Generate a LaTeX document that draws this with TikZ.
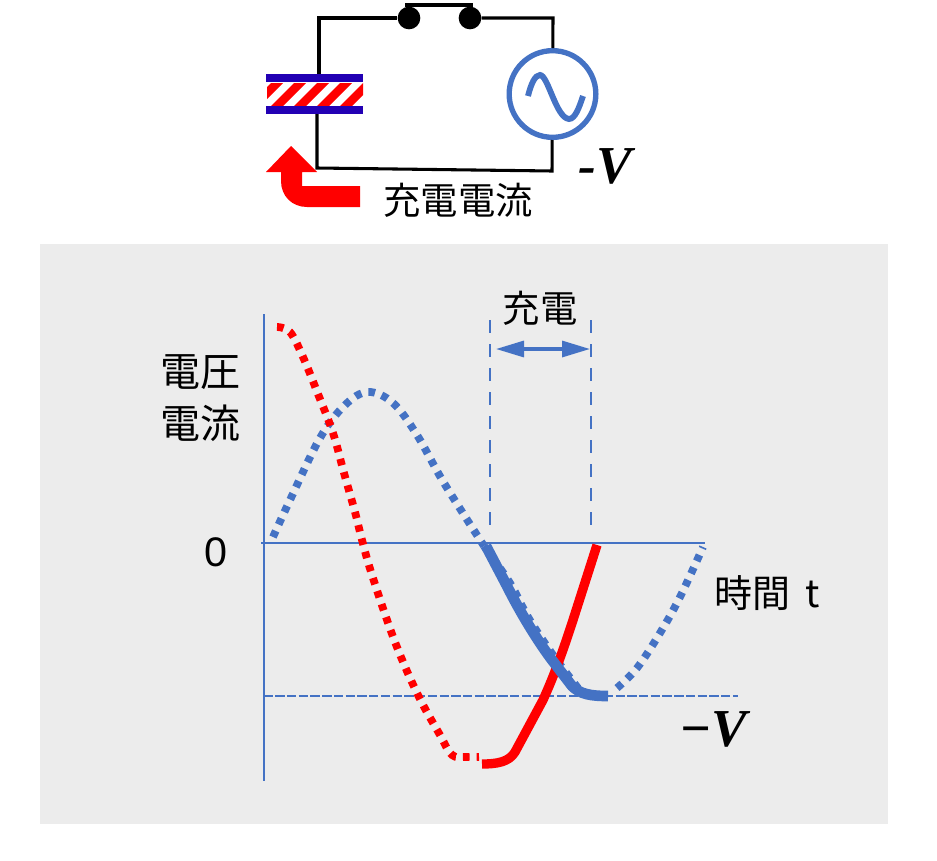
\documentclass[tikz,border=0pt]{standalone}
\usepackage{fontspec}
\setmainfont{Liberation Sans}
\newfontfamily\cjkf{Noto Sans CJK JP}
\newfontfamily\vfont[BoldItalicFont={Liberation Serif Bold Italic}]{Liberation Serif}
\usetikzlibrary{arrows.meta}
\definecolor{acc}{HTML}{4472C4}
\definecolor{panel}{HTML}{ECECEC}
\definecolor{capblue}{HTML}{2200B4}
\tikzset{
  wire/.style={draw=black,line width=2.3pt},
  axisline/.style={draw=acc,line width=1.5pt},
  guide/.style={draw=acc,line width=2pt,dash pattern=on 10pt off 8pt},
  dotblue/.style={draw=acc,line width=5.8pt,dash pattern=on 5pt off 5.3pt},
  dotred/.style={draw=red,line width=5.8pt,dash pattern=on 5pt off 5.3pt},
  solidblue/.style={draw=acc,line width=8pt,line join=round},
  solidred/.style={draw=red,line width=7pt,line join=round},
  cjktext/.style={inner sep=0pt,font=\cjkf\fontsize{28}{28}\selectfont,text=black},
  vtext/.style={inner sep=0pt,font=\vfont\bfseries\itshape\fontsize{40}{40}\selectfont,text=black}
}
\begin{document}
\begin{tikzpicture}[x=0.75pt,y=-0.75pt]
\useasboundingbox (0,0) rectangle (937,860);
\fill[white] (0,0) rectangle (937,860);
\fill[panel] (40,244) rectangle (888,824);

% circuit
\coordinate (capT) at (319,74);
\coordinate (capB) at (317,112);
\coordinate (tl) at (319,18);
\coordinate (tr) at (553,18);
\node[circle,fill=black,minimum size=17pt,inner sep=0pt] (swa) at (409,18) {};
\node[circle,fill=black,minimum size=17pt,inner sep=0pt] (swb) at (470,18) {};
\node[circle,draw=acc,line width=4pt,minimum size=65pt,inner sep=0pt] (ac) at (552.5,94) {};
\coordinate (br) at (552,171);
\coordinate (bl) at (317,168);
\draw[wire,line join=miter] (capT) -- (tl) -- (swa);
\draw[wire,line join=miter] (swb) -- (tr) -- (ac);
\draw[wire,line join=miter] (ac) -- (br) -- (bl) -- (capB);
\coordinate (barL) at (405,5);
\coordinate (barR) at (473,5);
\draw[draw=black,line width=3.4pt] (barL) -- (barR);
\draw[draw=acc,line width=4.4pt,line cap=butt] (528,96) .. controls (531,84) and (535,75) .. (540,75)
  .. controls (548,75) and (556,118) .. (569,119) .. controls (575,119) and (579,108) .. (583,96);

% capacitor
\begin{scope}
\clip (267,83) rectangle (363,106);
\fill[white] (266,83) rectangle (363,106);
\foreach \i in {0,...,5}{
  \fill[red] ({248+23*\i},106) -- ({260+23*\i},106) -- ({283+23*\i},83) -- ({271+23*\i},83) -- cycle;
}
\end{scope}
\fill[capblue] (266,74) rectangle (363,82);
\fill[capblue] (266,106) rectangle (363,114);

% charging arrow
\fill[red] (291,146) -- (317,172) -- (302,172) -- (302,186) -- (360,186) -- (360,207) -- (307,207)
  .. controls (292,207) and (281,196) .. (281,181) -- (281,172) -- (266,172) -- cycle;

\node[cjktext] (lblcur) at (458,200) {充電電流};
\node[vtext] (lblv) at (605,166) {-V};

% axes
\coordinate (yT) at (263.5,314);
\coordinate (yB) at (263.5,781);
\coordinate (xL) at (261,543);
\coordinate (xR) at (705,543);
\coordinate (mL) at (263.5,696);
\coordinate (mR) at (738,696);
\draw[axisline] (yT) -- (yB);
\draw[axisline] (xL) -- (xR);
\draw[draw=acc,line width=1.3pt,dash pattern=on 7pt off 1.8pt] (mL) -- (mR);
\coordinate (g1T) at (490,320);
\coordinate (g1B) at (490,530);
\coordinate (g2T) at (591,320);
\coordinate (g2B) at (591,530);
\draw[guide] (g1T) -- (g1B);
\draw[guide] (g2T) -- (g2B);
\draw[draw=acc,line width=2.4pt,{Stealth[length=21pt,width=12pt,inset=0pt]}-{Stealth[length=21pt,width=12pt,inset=0pt]}] (g1T |- 0,349) ++(6,0) -- (590,349);

% curves
\draw[dotblue] plot[smooth,tension=0.6] coordinates {(273,537) (290,500) (320,438) (345,405) (368,392) (393,403) (417,435) (444,483) (484,546)};
\draw[dotblue] plot[smooth,tension=0.6] coordinates {(484,546) (510,583) (528,617) (553,655) (578,688)};
\draw[dotblue] plot[smooth,tension=0.6] coordinates {(617,688) (637,668) (660,633) (680,597) (703,547)};
\draw[dotred] plot[smooth,tension=0.6] coordinates {(277,327) (290,332) (303,357) (318,394) (333,433) (344,473) (355,512) (362,540) (372,575) (395,642) (418,695) (440,735) (452,755) (466,757) (479,757)};
\draw[solidred] (482,764) .. controls (497,764) and (509,762) .. (515,752) -- (543,700) .. controls (552,680) and (560,660) .. (573,620) -- (597,545);
\draw[solidblue] (486,546) -- (507,586) .. controls (520,612) and (537,640) .. (552,660) -- (572,686) .. controls (580,694) and (590,696) .. (608,696);

% labels
\node[cjktext] (lblchg) at (540,308) {充電};
\node[cjktext,font=\cjkf\fontsize{30}{30}\selectfont] (lblv1) at (200,372) {電圧};
\node[cjktext,font=\cjkf\fontsize{30}{30}\selectfont] (lblv2) at (200,423) {電流};
\node[inner sep=0pt,font=\fontsize{31}{31}\selectfont] (lblz) at (216,552) {0};
\node[cjktext,font=\cjkf\fontsize{28.5}{28.5}\selectfont] (lblt) at (767,593) {時間\hspace{0.4em}t};
\node[vtext] (lblmv) at (713,729) {−V};
\end{tikzpicture}
\end{document}
